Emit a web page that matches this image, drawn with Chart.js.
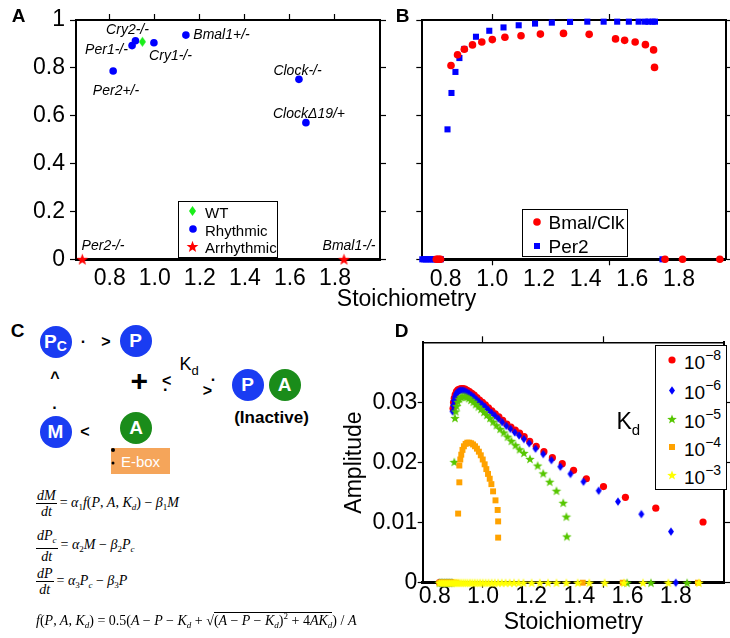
<!DOCTYPE html>
<html><head><meta charset="utf-8">
<script src="https://cdn.jsdelivr.net/npm/chart.js@4.4.1/dist/chart.umd.min.js"></script>
<style>
html,body{margin:0;padding:0;background:#fff;}
#wrap{position:relative;width:730px;height:638px;overflow:hidden;font-family:"Liberation Sans",Arial,Helvetica,sans-serif;color:#000;background:#fff;}
canvas{position:absolute;}
.abs{position:absolute;white-space:nowrap;line-height:1;}
.gl{font-style:italic;font-size:14px;}
.pl{font-weight:bold;font-size:19px;}
.lgbox{position:absolute;border:1.5px solid #000;background:#fff;box-sizing:border-box;}
.circ{position:absolute;border-radius:50%;color:#fff;font-weight:bold;font-size:19px;display:flex;align-items:center;justify-content:center;}
.eq{position:absolute;font-family:"Liberation Serif","Times New Roman",serif;font-size:14px;font-style:italic;display:flex;align-items:center;white-space:nowrap;}
.eq .up{font-style:normal;}
.frac{display:inline-flex;flex-direction:column;align-items:center;line-height:15px;margin-right:3px;}
.frac .num{border-bottom:1px solid #000;padding:0 1px;}
.eq sub{font-size:9px;vertical-align:-3px;}
.eq sup{font-size:9px;vertical-align:6px;}
.sym{font-weight:bold;font-size:16px;}
</style></head>
<body><div id="wrap">
<canvas id="cA" width="392" height="310" style="left:0;top:0;"></canvas>
<canvas id="cB" width="345" height="310" style="left:385px;top:0;"></canvas>
<canvas id="cD" width="400" height="328" style="left:330px;top:310px;"></canvas>
</div>
<script>
// ---------------- DATA ----------------
// Panel A
const wtX = [0.945], wtY = [0.909];
const rhythmicNames = ['Per2+/-','Per1-/-','Cry2-/-','Cry1-/-','Bmal1+/-','Clock-/-','ClockΔ19/+'];
const rhythmicX = [0.815,0.899,0.914,0.996,1.138,1.640,1.671];
const rhythmicY = [0.787,0.893,0.913,0.905,0.937,0.752,0.571];
const arrhythmicNames = ['Per2-/-','Bmal1-/-'];
const arrhythmicX = [0.678,1.840];
const arrhythmicY = [0,0];
const xTicksA = [0.8,1.0,1.2,1.4,1.6,1.8];
const yTicksAB = [0,0.2,0.4,0.6,0.8,1];

// Panel B
const bmalX = [0.760,0.766,0.772,0.778,0.823,0.851,0.880,0.915,0.955,1.000,1.054,1.123,1.206,1.305,1.415,1.528,1.567,1.612,1.656,1.691,1.695,1.740,1.815,1.975];
const bmalY = [0,0,0,0,0.810,0.855,0.878,0.896,0.908,0.918,0.928,0.934,0.941,0.944,0.940,0.921,0.915,0.908,0.897,0.875,0.802,0,0,0];
const per2X = [0.700,0.708,0.716,0.724,0.732,0.740,0.748,0.756,0.764,0.772,0.780,0.808,0.825,0.842,0.859,0.880,0.930,0.987,1.048,1.113,1.183,1.255,1.333,1.407,1.477,1.535,1.585,1.627,1.654,1.669,1.687,1.697,1.729];
const per2Y = [0,0,0,0,0,0,0,0,0,0,0,0.543,0.695,0.783,0.841,0.879,0.930,0.955,0.969,0.978,0.985,0.989,0.992,0.993,0.993,0.993,0.993,0.993,0.993,0.993,0.993,0.993,0];
const xLabelsBD = [0.8,1.0,1.2,1.4,1.6,1.8];
const xMarksBD = [1.0,1.5];

// Panel D
const kd8X = [0.82,0.83,0.84,0.85,0.86,0.87,0.876,0.878,0.881,0.885,0.890,0.896,0.903,0.910,0.918,0.926,0.935,0.944,0.954,0.964,0.975,0.986,0.998,1.010,1.023,1.037,1.051,1.066,1.082,1.099,1.116,1.134,1.152,1.171,1.194,1.221,1.253,1.288,1.329,1.376,1.429,1.500,1.591,1.717,1.913];
const kd8Y = [0,0,0,0,0,0,0.0290,0.0300,0.0307,0.0313,0.0318,0.0321,0.0322,0.0323,0.0323,0.0322,0.0320,0.0318,0.0315,0.0312,0.0308,0.0304,0.0300,0.0296,0.0291,0.0286,0.0281,0.0276,0.0270,0.0264,0.0259,0.0254,0.0249,0.0243,0.0235,0.0227,0.0218,0.0208,0.0198,0.0187,0.0173,0.0160,0.0142,0.0124,0.0101];
const kd6X = [0.82,0.83,0.84,0.85,0.86,0.87,0.874,0.876,0.879,0.883,0.888,0.894,0.901,0.908,0.916,0.924,0.933,0.942,0.952,0.962,0.973,0.984,0.996,1.008,1.021,1.035,1.049,1.064,1.080,1.097,1.114,1.132,1.150,1.170,1.192,1.218,1.250,1.284,1.321,1.363,1.417,1.480,1.560,1.657,1.780,1.800];
const kd6Y = [0,0,0,0,0,0,0.0285,0.0295,0.0303,0.0309,0.0314,0.0317,0.0319,0.0320,0.0320,0.0319,0.0317,0.0315,0.0312,0.0309,0.0305,0.0301,0.0297,0.0293,0.0288,0.0283,0.0278,0.0273,0.0267,0.0261,0.0256,0.0250,0.0245,0.0239,0.0232,0.0223,0.0214,0.0204,0.0193,0.0181,0.0168,0.0153,0.0135,0.0114,0.0085,0];
const kd5X = [0.82,0.83,0.84,0.85,0.86,0.87,0.881,0.884,0.887,0.891,0.896,0.902,0.909,0.916,0.924,0.932,0.941,0.950,0.960,0.970,0.981,0.992,1.004,1.016,1.029,1.042,1.056,1.071,1.086,1.102,1.118,1.135,1.152,1.170,1.195,1.227,1.250,1.277,1.305,1.333,1.346,1.348,1.598,1.697,1.847];
const kd5Y = [0,0,0,0,0,0,0.0201,0.0274,0.0285,0.0294,0.0301,0.0306,0.0309,0.0310,0.0310,0.0309,0.0307,0.0304,0.0301,0.0297,0.0293,0.0289,0.0284,0.0279,0.0274,0.0268,0.0262,0.0256,0.0250,0.0243,0.0236,0.0229,0.0222,0.0216,0.0206,0.0195,0.0182,0.0168,0.0153,0.0133,0.0110,0.0077,0,0,0];
const kd4X = [0.82,0.83,0.84,0.85,0.86,0.87,0.88,0.89,0.897,0.902,0.902,0.906,0.910,0.915,0.921,0.928,0.935,0.943,0.951,0.959,0.967,0.975,0.983,0.991,0.999,1.007,1.014,1.021,1.028,1.035,1.042,1.052,1.061,1.063,1.063,1.414,1.580,1.892];
const kd4Y = [0,0,0,0,0,0,0,0,0.0115,0.0167,0.0195,0.0205,0.0213,0.0221,0.0227,0.0231,0.0233,0.0233,0.0232,0.0230,0.0227,0.0223,0.0218,0.0212,0.0205,0.0197,0.0189,0.0181,0.0173,0.0164,0.0152,0.0137,0.0121,0.0102,0.0075,0,0,0];
const kd3X = [0.820,0.828,0.836,0.844,0.852,0.860,0.868,0.876,0.884,0.892,0.900,0.909,0.918,0.927,0.936,0.946,0.956,0.966,0.977,0.988,0.999,1.011,1.023,1.036,1.049,1.063,1.078,1.094,1.111,1.129,1.148,1.168,1.202,1.236,1.270,1.305,1.346,1.393,1.441,1.505,1.585,1.664,1.769,1.896];
const kd3Y = kd3X.map(() => 0);
const yTicksD = [0,0.01,0.02,0.03];
const kdLabels = ['8','6','5','4','3'];

// ---------------- HELPERS ----------------
const FONT = '"Liberation Sans", Arial, Helvetica, sans-serif';
Chart.defaults.font.family = FONT;
Chart.defaults.color = '#000';
const wrap = document.getElementById('wrap');
const pts = (xs, ys) => xs.map((x, i) => ({x, y: ys[i]}));

function makeStar(color, R, r) {
  const s = Math.ceil(2 * R + 2);
  const c = document.createElement('canvas'); c.width = s; c.height = s;
  const g = c.getContext('2d'); g.translate(s / 2, s / 2 + 0.5);
  g.beginPath();
  for (let i = 0; i < 10; i++) { const a = -Math.PI / 2 + i * Math.PI / 5; const rr = i % 2 ? r : R; g.lineTo(rr * Math.cos(a), rr * Math.sin(a)); }
  g.closePath(); g.fillStyle = color; g.fill();
  return c;
}
function makeDiamond(color, w, h) {
  const cw = Math.ceil(w + 2), ch = Math.ceil(h + 2);
  const c = document.createElement('canvas'); c.width = cw; c.height = ch;
  const g = c.getContext('2d'); g.translate(cw / 2, ch / 2);
  g.beginPath(); g.moveTo(0, -h / 2); g.lineTo(w / 2, 0); g.lineTo(0, h / 2); g.lineTo(-w / 2, 0); g.closePath();
  g.fillStyle = color; g.fill();
  return c;
}
function makeCircle(color, r) {
  const s = Math.ceil(2 * r + 2);
  const c = document.createElement('canvas'); c.width = s; c.height = s;
  const g = c.getContext('2d'); g.beginPath(); g.arc(s / 2, s / 2, r, 0, 2 * Math.PI); g.fillStyle = color; g.fill();
  return c;
}
function makeSquare(color, a) {
  const s = Math.ceil(a + 2);
  const c = document.createElement('canvas'); c.width = s; c.height = s;
  const g = c.getContext('2d'); g.fillStyle = color; g.fillRect((s - a) / 2, (s - a) / 2, a, a);
  return c;
}

const RED = '#ff0000', BLUE = '#0000ff', WTG = '#1aee1a', GRN = '#56c600', ORG = '#ffa200', YEL = '#ffff00';
const starA = makeStar(RED, 6.2, 2.6);
const diamA = makeDiamond(WTG, 7, 10);
const diamD = makeDiamond(BLUE, 6, 8.5);
const starG = makeStar(GRN, 5, 2.1);
const starY = makeStar(YEL, 5, 2.1);

function place(html, cx, cy, style) {
  const d = document.createElement('div');
  d.className = 'abs'; d.innerHTML = html;
  if (style) d.style.cssText = style;
  d.style.left = cx + 'px'; d.style.top = cy + 'px';
  d.style.transform = 'translate(-50%,-50%)';
  wrap.appendChild(d);
  return d;
}
function placeLeft(html, x, cy, style) {
  const d = place(html, x, cy, style);
  d.style.transform = 'translate(0,-50%)';
  return d;
}
function symbol(canvas, cx, cy) {
  const c = document.createElement('canvas');
  c.width = canvas.width; c.height = canvas.height;
  c.getContext('2d').drawImage(canvas, 0, 0);
  c.style.left = (cx - canvas.width / 2) + 'px'; c.style.top = (cy - canvas.height / 2) + 'px';
  wrap.appendChild(c);
}
function box(l, t, w, h) {
  const d = document.createElement('div'); d.className = 'lgbox';
  d.style.left = l + 'px'; d.style.top = t + 'px'; d.style.width = w + 'px'; d.style.height = h + 'px';
  wrap.appendChild(d);
}

const BLACK = '#000', NONE = 'rgba(0,0,0,0)';
function setTicks(vals) { return s => { s.ticks = vals.map(v => ({value: v})); }; }
function fixW(w) { return s => { s.width = w; }; }
function fixH(h) { return s => { s.height = h; }; }
function markAxis(pos, min, max, vals, size, bw) {
  return {type: 'linear', position: pos, min, max,
    afterBuildTicks: setTicks(vals), afterFit: (pos === 'top' || pos === 'bottom') ? fixH(size) : fixW(size),
    ticks: {display: false},
    grid: {drawOnChartArea: false, drawTicks: true, tickLength: 6, tickColor: BLACK, tickWidth: 1.2},
    border: {display: true, color: BLACK, width: bw}};
}
const common = {responsive: false, animation: false, events: [],
  plugins: {legend: {display: false}, tooltip: {enabled: false}}};

// ---------------- PANEL A ----------------
new Chart(document.getElementById('cA'), {
  type: 'scatter',
  data: {datasets: [
    {label: 'WT', data: pts(wtX, wtY), pointStyle: diamA, pointRadius: 5, clip: false},
    {label: 'Rhythmic', data: pts(rhythmicX, rhythmicY), pointStyle: 'circle', pointRadius: 3.8, backgroundColor: BLUE, borderWidth: 0, clip: false},
    {label: 'Arrhythmic', data: pts(arrhythmicX, arrhythmicY), pointStyle: starA, pointRadius: 6, clip: false}
  ]},
  options: Object.assign({}, common, {
    layout: {padding: {left: 6, top: 12, right: 4, bottom: 10.7}},
    scales: {
      x: {type: 'linear', position: 'bottom', min: 0.65, max: 2.0,
        afterBuildTicks: setTicks(xTicksA), afterFit: fixH(40),
        ticks: {font: {size: 23, lineHeight: 1}, color: BLACK, padding: 1.5, maxRotation: 0, autoSkip: false, callback: v => v.toFixed(1)},
        grid: {drawOnChartArea: false, drawTicks: true, tickLength: 6, tickColor: NONE},
        border: {display: true, color: BLACK, width: 3}},
      x2: markAxis('top', 0.65, 2.0, xTicksA, 8, 2),
      y: {type: 'linear', position: 'left', min: 0, max: 1,
        afterBuildTicks: setTicks(yTicksAB), afterFit: fixW(70),
        ticks: {font: {size: 23, lineHeight: 1}, color: BLACK, padding: 5, callback: v => (v === 0 || v === 1) ? String(v) : v.toFixed(1)},
        grid: {drawOnChartArea: false, drawTicks: true, tickLength: 6, tickColor: BLACK, tickWidth: 1.2},
        border: {display: true, color: BLACK, width: 2}},
      y2: markAxis('right', 0, 1, yTicksAB, 8, 2)
    }
  })
});

// ---------------- PANEL B ----------------
const xTicksBD = [...new Set([...xLabelsBD, ...xMarksBD])].sort((a, b) => a - b);
new Chart(document.getElementById('cB'), {
  type: 'scatter',
  data: {datasets: [
    {label: 'Bmal/Clk', data: pts(bmalX, bmalY), pointStyle: 'circle', pointRadius: 3.8, backgroundColor: RED, borderWidth: 0, clip: false},
    {label: 'Per2', data: pts(per2X, per2Y), pointStyle: 'rect', pointRadius: 4.3, backgroundColor: BLUE, borderWidth: 0, clip: false}
  ]},
  options: Object.assign({}, common, {
    layout: {padding: {left: 29.3, top: 12, right: 0.3, bottom: 10.7}},
    scales: {
      x: {type: 'linear', position: 'bottom', min: 0.7, max: 2.0,
        afterBuildTicks: setTicks(xTicksBD), afterFit: fixH(40),
        ticks: {font: {size: 23, lineHeight: 1}, color: BLACK, padding: 3.2, maxRotation: 0, autoSkip: false,
          callback: v => xLabelsBD.includes(v) ? v.toFixed(1) : ''},
        grid: {drawOnChartArea: false, drawTicks: true, tickLength: 6, tickWidth: 1.2,
          tickColor: c => (c.tick && xMarksBD.includes(c.tick.value)) ? BLACK : NONE},
        border: {display: true, color: BLACK, width: 3}},
      x2: markAxis('top', 0.7, 2.0, xMarksBD, 8, 2),
      y: markAxis('left', 0, 1, yTicksAB, 8, 2),
      y2: markAxis('right', 0, 1, yTicksAB, 2, 2)
    }
  })
});

// ---------------- PANEL D ----------------
new Chart(document.getElementById('cD'), {
  type: 'scatter',
  data: {datasets: [
    {label: '1e-8', data: pts(kd8X, kd8Y), order: 4, pointStyle: 'circle', pointRadius: 3.6, backgroundColor: RED, borderWidth: 0, clip: false},
    {label: '1e-6', data: pts(kd6X, kd6Y), order: 3, pointStyle: diamD, pointRadius: 4, clip: false},
    {label: '1e-5', data: pts(kd5X, kd5Y), order: 2, pointStyle: starG, pointRadius: 5, clip: false},
    {label: '1e-4', data: pts(kd4X, kd4Y), order: 1, pointStyle: 'rect', pointRadius: 4.2, backgroundColor: ORG, borderWidth: 0, clip: false},
    {label: '1e-3', data: pts(kd3X, kd3Y), order: 0, pointStyle: starY, pointRadius: 5, clip: false}
  ]},
  options: Object.assign({}, common, {
    layout: {padding: {left: 11.2, top: 24.3, right: 0, bottom: 0}},
    scales: {
      x: {type: 'linear', position: 'bottom', min: 0.75, max: 2.0,
        afterBuildTicks: setTicks(xTicksBD), afterFit: fixH(55.3),
        title: {display: true, text: 'Stoichiometry', font: {size: 23, lineHeight: 1}, color: BLACK, padding: {top: 0, bottom: 4}},
        ticks: {font: {size: 23, lineHeight: 1}, color: BLACK, padding: -2.5, maxRotation: 0, autoSkip: false,
          callback: v => xLabelsBD.includes(v) ? v.toFixed(1) : ''},
        grid: {drawOnChartArea: false, drawTicks: true, tickLength: 5, tickWidth: 1.2,
          tickColor: c => (c.tick && xMarksBD.includes(c.tick.value)) ? BLACK : NONE},
        border: {display: true, color: BLACK, width: 3}},
      x2: markAxis('top', 0.75, 2.0, xMarksBD, 8, 1.5),
      y: {type: 'linear', position: 'left', min: 0, max: 0.04,
        afterBuildTicks: setTicks(yTicksD), afterFit: fixW(81.5),
        title: {display: true, text: 'Amplitude', font: {size: 23, lineHeight: 1}, color: BLACK, padding: {top: 2.3, bottom: 0}},
        ticks: {font: {size: 23, lineHeight: 1}, color: BLACK, padding: 0.5, callback: v => v === 0 ? '0' : v.toFixed(2)},
        grid: {drawOnChartArea: false, drawTicks: true, tickLength: 5, tickColor: BLACK, tickWidth: 1.2},
        border: {display: true, color: BLACK, width: 2}},
      y2: markAxis('right', 0, 0.04, yTicksD, 2, 2)
    }
  })
});

// ---------------- TEXT / LEGENDS ----------------
place('A', 18.5, 15, 'font-weight:bold;font-size:19px;');
place('B', 402.5, 14.5, 'font-weight:bold;font-size:19px;');
place('C', 17.5, 330, 'font-weight:bold;font-size:19px;');
place('D', 401.5, 330, 'font-weight:bold;font-size:19px;');

// genotype labels (panel A)
const gl = 'font-style:italic;font-size:14px;';
place('Cry2-/-', 127.5, 29, gl);
place('Per1-/-', 106.5, 49, gl);
place('Cry1-/-', 170.5, 55, gl);
place('Bmal1+/-', 221.5, 34, gl);
place('Per2+/-', 116, 90, gl);
place('Clock-/-', 297.5, 70, gl);
place('Clock&Delta;19/+', 309, 113, gl);
place('Per2-/-', 103, 245, gl);
place('Bmal1-/-', 349, 245, gl);

place('Stoichiometry', 406.5, 298, 'font-size:23px;');

// legend A
box(178, 201, 100, 57);
symbol(diamA, 192.7, 211); placeLeft('WT', 205, 211.5, 'font-size:15px;');
symbol(makeCircle(BLUE, 3.8), 192.7, 229.3); placeLeft('Rhythmic', 205, 229.8, 'font-size:15px;');
symbol(starA, 192.7, 246.7); placeLeft('Arrhythmic', 205, 247.2, 'font-size:15px;');

// legend B
box(522, 209, 106, 48);
symbol(makeCircle(RED, 3.8), 536.7, 221.7); placeLeft('Bmal/Clk', 548.5, 222.2, 'font-size:19px;');
symbol(makeSquare(BLUE, 6), 536.7, 245.7); placeLeft('Per2', 548.5, 246.2, 'font-size:19px;');

// legend D
box(655, 345, 72, 145);
const legSyms = [makeCircle(RED, 3.6), diamD, starG, makeSquare(ORG, 6), starY];
const legY = [360, 390, 419, 446.7, 475];
kdLabels.forEach((e, i) => {
  symbol(legSyms[i], 671.7, legY[i]);
  placeLeft('10<span style="font-size:14px;position:relative;top:-9px;">&minus;' + e + '</span>', 684, legY[i] + 2, 'font-size:19px;');
});
placeLeft('K<span style="font-size:15px;position:relative;top:6px;">d</span>', 616.5, 421, 'font-size:23px;');

// ---------------- PANEL C diagram ----------------
function circ(cx, cy, color, html) {
  const d = document.createElement('div'); d.className = 'circ';
  d.style.left = (cx - 16) + 'px'; d.style.top = (cy - 16) + 'px';
  d.style.width = '32px'; d.style.height = '32px'; d.style.background = color;
  d.innerHTML = html; wrap.appendChild(d);
}
const CB = '#1a3cf2', CG = '#1a8c1a';
circ(55.5, 342, CB, 'P<span style="font-size:14px;position:relative;top:4px;">C</span>');
circ(135.5, 341, CB, 'P');
circ(55.5, 432, CB, 'M');
circ(136, 427.5, CG, 'A');
circ(247.5, 384.5, CB, 'P');
circ(284.5, 384.5, CG, 'A');
const sy = 'font-weight:bold;font-size:16px;';
place('&middot;', 83.3, 341.7, sy);
place('&gt;', 106, 341.7, sy);
place('^', 55, 378, sy);
place('&middot;', 55, 408, sy);
place('&lt;', 85, 431.7, sy);
place('+', 139.3, 381, 'font-weight:900;font-size:30px;');
place('&lt;', 166.7, 380.7, sy);
place('&middot;', 165.7, 390, sy);
place('&gt;', 207.3, 390.7, sy);
place('&middot;', 213.3, 380, sy);
placeLeft('K<span style="font-size:13px;position:relative;top:5px;">d</span>', 179.5, 364, 'font-size:18px;');
place('(Inactive)', 271.5, 416.7, 'font-weight:bold;font-size:17px;');
const eb = document.createElement('div');
eb.className = 'abs';
eb.style.cssText = 'left:111px;top:448px;width:59px;height:26px;background:#f5a55a;color:#fff;font-size:15px;display:flex;align-items:center;justify-content:center;';
eb.textContent = 'E-box'; wrap.appendChild(eb);
place('', 112.7, 450, 'width:4px;height:4px;background:#000;border-radius:50%;');
place('', 112.7, 463.3, 'width:3px;height:3px;background:#000;border-radius:50%;');

// ---------------- Equations ----------------
function eq(left, top, html) {
  const d = document.createElement('div'); d.className = 'eq';
  d.style.left = left + 'px'; d.style.top = top + 'px'; d.innerHTML = html; wrap.appendChild(d);
}
eq(36, 488, '<span class="frac"><span class="num">dM</span><span>dt</span></span><span><span class="up">=</span> &alpha;<sub class="up">1</sub><i>f</i><span class="up">(</span>P<span class="up">,</span> A<span class="up">,</span> K<sub>d</sub><span class="up">) &minus; </span>&beta;<sub class="up">1</sub>M</span>');
eq(36, 527.5, '<span class="frac"><span class="num">dP<sub>c</sub></span><span>dt</span></span><span><span class="up">=</span> &alpha;<sub class="up">2</sub>M <span class="up">&minus;</span> &beta;<sub class="up">2</sub>P<sub>c</sub></span>');
eq(36, 565.5, '<span class="frac"><span class="num">dP</span><span>dt</span></span><span><span class="up">=</span> &alpha;<sub class="up">3</sub>P<sub>c</sub> <span class="up">&minus;</span> &beta;<sub class="up">3</sub>P</span>');
eq(36, 611, '<span>f<span class="up">(</span>P<span class="up">,</span> A<span class="up">,</span> K<sub>d</sub><span class="up">) = 0.5(</span>A <span class="up">&minus;</span> P <span class="up">&minus;</span> K<sub>d</sub> <span class="up">+ &radic;</span><span style="border-top:1px solid #000;"><span class="up">(</span>A <span class="up">&minus;</span> P <span class="up">&minus;</span> K<sub>d</sub><span class="up">)<sup>2</sup> + 4</span>AK<sub>d</sub></span><span class="up">) / </span>A</span>');
</script>
</body></html>
